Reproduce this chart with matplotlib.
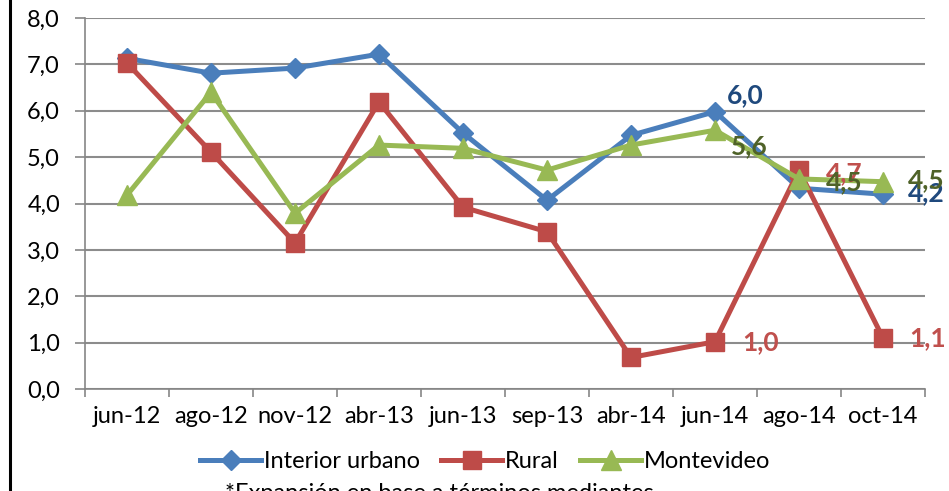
import matplotlib
matplotlib.use("Agg")
import matplotlib.pyplot as plt
from matplotlib.lines import Line2D

categories = ["jun-12", "ago-12", "nov-12", "abr-13", "jun-13", "sep-13",
              "abr-14", "jun-14", "ago-14", "oct-14"]
interior_urbano = [7.13, 6.81, 6.92, 7.22, 5.52, 4.07, 5.47, 5.98, 4.33, 4.2]
rural = [7.03, 5.11, 3.15, 6.19, 3.92, 3.39, 0.68, 1.02, 4.72, 1.1]
montevideo = [4.18, 6.40, 3.79, 5.26, 5.19, 4.72, 5.26, 5.58, 4.53, 4.47]
y_ticks = [0, 1, 2, 3, 4, 5, 6, 7, 8]
footnote = "*Expansión en base a términos mediantes"

plt.rcParams['font.family'] = ['Lato', 'DejaVu Sans']

fig = plt.figure(figsize=(9.49, 4.91), dpi=100)
ax = fig.add_axes([85/949, 1-389/491, (925-85)/949, (389-18)/491])

x = list(range(len(categories)))
c_blue, c_red, c_green = "#4A7EBB", "#BE4B48", "#98B954"
lw = 3.6
ax.plot(x, interior_urbano, color=c_blue, lw=lw, marker="D", ms=10,
        label="Interior urbano", zorder=3)
ax.plot(x, rural, color=c_red, lw=lw, marker="s", ms=13,
        label="Rural", zorder=4)
ax.plot(x, montevideo, color=c_green, lw=lw, marker="^", ms=14,
        label="Montevideo", zorder=5)

ax.set_xlim(-0.5, len(categories) - 0.5)
ax.set_ylim(0, 8)
ax.set_yticks(y_ticks)
ax.set_yticklabels([f"{v:.1f}".replace(".", ",") for v in y_ticks])
ax.set_xticks(x)
ax.set_xticklabels(categories)
ax.set_xticks([i - 0.5 for i in range(len(categories) + 1)], minor=True)
ax.tick_params(axis="x", which="major", length=0, pad=12, labelsize=17)
ax.tick_params(axis="x", which="minor", length=6, color="#868686", width=1.2)
ax.tick_params(axis="y", which="major", length=7, color="#868686", width=1.2,
               pad=11, labelsize=17)
ax.grid(axis="y", color="#8C8C8C", lw=1.5, zorder=0)
ax.set_axisbelow(True)
for s in ["top", "right"]:
    ax.spines[s].set_visible(False)
for s in ["left", "bottom"]:
    ax.spines[s].set_color("#868686")
    ax.spines[s].set_linewidth(1.2)

def lab(series, i, dx, dy, color):
    ax.annotate(f"{series[i]:.1f}".replace(".", ","), (x[i], series[i]),
                xytext=(dx, dy), textcoords="offset pixels", ha="left",
                va="center", fontsize=19, fontweight="bold", color=color,
                zorder=6, annotation_clip=False)

dblue, dred, dgreen = "#1F497D", "#C0504D", "#4F6228"
lab(interior_urbano, 7, 12, 17, dblue)
lab(interior_urbano, 9, 25, 1, dblue)
lab(rural, 7, 27, 0, dred)
lab(rural, 8, 27, -3, dred)
lab(rural, 9, 26, 0, dred)
lab(montevideo, 7, 16, -16, dgreen)
lab(montevideo, 8, 27, -3, dgreen)
lab(montevideo, 9, 25, 2, dgreen)

ax.legend(loc="center", bbox_to_anchor=(485/949, 1-462/491),
          bbox_transform=fig.transFigure, ncol=3, frameon=False,
          fontsize=17, handlelength=2.6, handletextpad=0.1,
          columnspacing=0.9, borderaxespad=0)

fig.add_artist(Line2D([10/949, 10/949], [0, 1], color="black", lw=2.2,
                      transform=fig.transFigure))
fig.text(225/949, 1-483/491, footnote, ha="left", va="top", fontsize=17)

fig.savefig("out.png", dpi=100)
